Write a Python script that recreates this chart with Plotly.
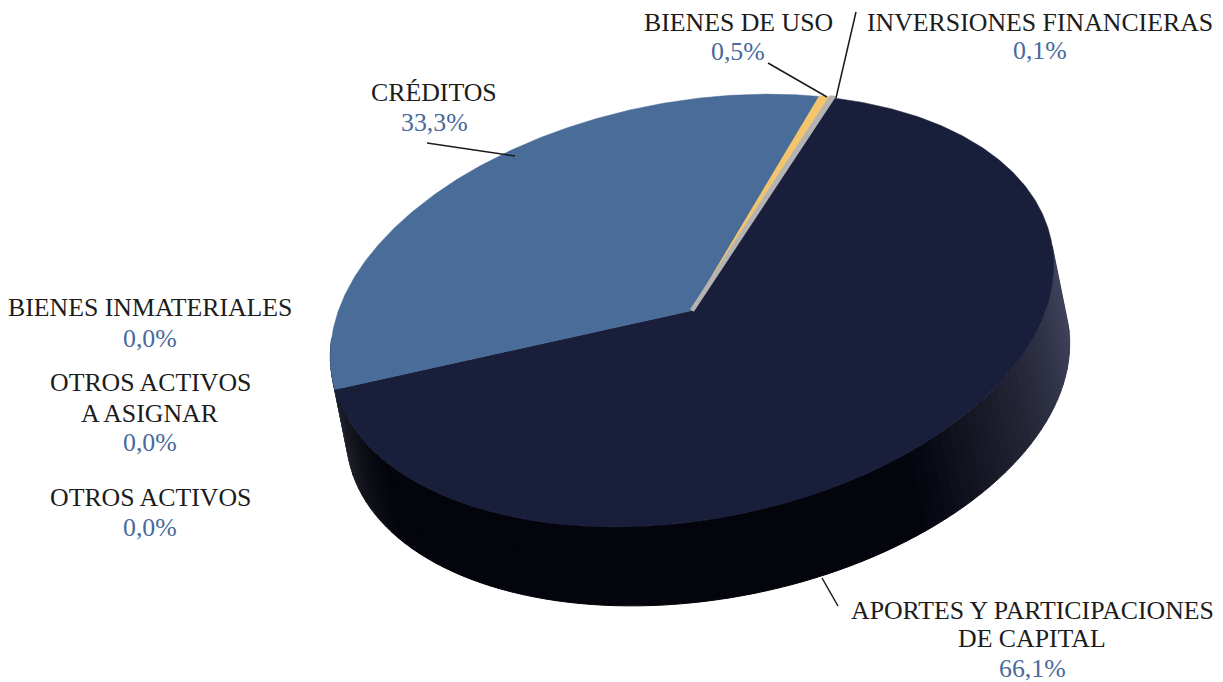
import numpy as np
import plotly.graph_objects as go

# ---------------- data ----------------
categories = ["CRÉDITOS", "BIENES DE USO", "INVERSIONES FINANCIERAS",
              "APORTES Y PARTICIPACIONES DE CAPITAL", "OTROS ACTIVOS",
              "OTROS ACTIVOS A ASIGNAR", "BIENES INMATERIALES"]
values = [33.3, 0.5, 0.1, 66.1, 0.0, 0.0, 0.0]
label_lines = [["CRÉDITOS"], ["BIENES DE USO"], ["INVERSIONES FINANCIERAS"],
               ["APORTES Y PARTICIPACIONES", "DE CAPITAL"], ["OTROS ACTIVOS"],
               ["OTROS ACTIVOS", "A ASIGNAR"], ["BIENES INMATERIALES"]]

# ---------------- styles / geometry ----------------
top_colors = ["#4a6c98", "#f3c56c", "#b3b3b3", "#191e3a", "#7a7a7a", "#999999", "#cccccc"]
edge_width = [0.5, 2.0, 4.5, 0.5, 0, 0, 0]
side_dark = ["#22344f", "#a07a30", "#6f6f6f", "#03040c", "#333333", "#444444", "#555555"]
side_left = ["#2e4566", "#c49a4a", "#8a8a8a", "#34353b", "#555555", "#555555", "#555555"]
side_right = ["#3e5a80", "#c49a4a", "#8a8a8a", "#3e4159", "#555555", "#555555", "#555555"]
label_pos = [(434, [92, 122]), (738, [22, 51]), (1040, [22, 50]),
             (1032, [610, 638, 668]), (150, [497, 527]),
             (150, [382, 413, 442]), (150, [307, 338])]
leaders = [[(427, 143), (515, 156)], [(768, 63), (827, 97)], [(856, 12), (836, 98)],
           [(822, 578), (838, 606)], None, None, None]

W, H = 1223, 682
OFF = 8  # page body margin
cx, cy = 692.0, 310.5
a, b = 366.0, 209.0
phi = np.radians(10.75)
dx, dy = 16.0, 79.0
start_deg = 183.0
sil_left = 173.8

FONT = "Liberation Serif"
FS = 25.8


def pt(tdeg):
    t = np.radians(tdeg)
    x = cx + a * np.cos(t) * np.cos(phi) - b * np.sin(t) * np.sin(phi)
    y = cy - (a * np.cos(t) * np.sin(phi) + b * np.sin(t) * np.cos(phi))
    return x, y


def hex2rgb(h):
    h = h.lstrip("#")
    return np.array([int(h[i:i + 2], 16) for i in (0, 2, 4)], dtype=float)


def mix(c1, c2, f):
    c = hex2rgb(c1) * (1 - f) + hex2rgb(c2) * f
    return "rgb(%d,%d,%d)" % tuple(np.clip(np.round(c), 0, 255))


def side_color(i, u):
    if u < 0.5:
        f = np.clip(u / 0.18, 0, 1) ** 0.7
        return mix(side_left[i], side_dark[i], f)
    f = np.clip((1.0 - u) / 0.3, 0, 1) ** 1.2
    return mix(side_right[i], side_dark[i], f)


total = sum(values)
fig = go.Figure()

ranges = []
cur = start_deg
for v in values:
    span = v / total * 360.0
    ranges.append((cur, cur - span))
    cur -= span

# ---- side walls ----
for i, (t0, t1) in enumerate(ranges):
    if t0 - t1 <= 0:
        continue
    n = max(1, int(np.ceil((t0 - t1) / 2.0)))
    ts = np.linspace(t0, t1, n + 1)
    for k in range(n):
        ta, tb = ts[k], ts[k + 1]
        tm = 0.5 * (ta + tb)
        u = ((tm - sil_left) % 360.0) / 180.0
        if 1.03 < u < 1.97:
            continue
        if u >= 1.97:
            u = 0.0
        sub = np.linspace(ta, tb, 4)
        xs_top, ys_top = pt(sub)
        xs = list(xs_top) + list(xs_top[::-1] + dx) + [xs_top[0]]
        ys = list(ys_top) + list(ys_top[::-1] + dy) + [ys_top[0]]
        col = side_color(i, min(max(u, 0), 1))
        fig.add_trace(go.Scatter(x=xs, y=ys, mode="lines", fill="toself",
                                 fillcolor=col, line=dict(color=col, width=1),
                                 hoverinfo="skip", showlegend=False))

# ---- top faces (largest first so thin slices stay visible) ----
order = sorted(range(len(values)), key=lambda k: -values[k])
for i in order:
    t0, t1 = ranges[i]
    if t0 - t1 <= 0:
        continue
    n = max(3, int(np.ceil((t0 - t1) / 0.5)))
    ts = np.linspace(t0, t1, n + 1)
    xs, ys = pt(ts)
    X = [cx] + list(xs) + [cx]
    Y = [cy] + list(ys) + [cy]
    fig.add_trace(go.Scatter(x=X, y=Y, mode="lines", fill="toself",
                             fillcolor=top_colors[i],
                             line=dict(color=top_colors[i], width=edge_width[i]),
                             hoverinfo="skip", showlegend=False))

# ---- leader lines ----
for ld in leaders:
    if ld is None:
        continue
    fig.add_trace(go.Scatter(x=[p[0] for p in ld], y=[p[1] for p in ld], mode="lines",
                             line=dict(color="#1a1a1a", width=1.5),
                             hoverinfo="skip", showlegend=False))

# ---- labels ----
for i, lines in enumerate(label_lines):
    pct = ("%.1f" % values[i]).replace(".", ",") + "%"
    x0, ys = label_pos[i]
    texts = lines + [pct]
    for j, txt in enumerate(texts):
        col = "#49699a" if j == len(texts) - 1 else "#1c1c1c"
        fig.add_annotation(x=x0, y=ys[j], xref="x", yref="y", text=txt,
                           showarrow=False, xanchor="center", yanchor="middle",
                           font=dict(family=FONT, size=FS, color=col))

fig.update_layout(
    width=W, height=H,
    margin=dict(l=0, r=0, t=0, b=0),
    paper_bgcolor="white", plot_bgcolor="white",
    xaxis=dict(range=[OFF, OFF + W], visible=False, fixedrange=True),
    yaxis=dict(range=[OFF + H, OFF], visible=False, fixedrange=True),
    showlegend=False,
)

fig.write_html("out.html")
